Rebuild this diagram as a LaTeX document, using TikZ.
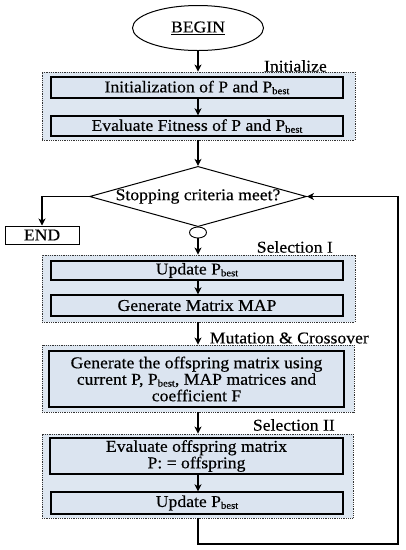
\documentclass[tikz,border=0pt]{standalone}
\usepackage{fontspec}
\setmainfont{Liberation Serif}[FakeStretch=1.07,FakeBold=0.35]
\usetikzlibrary{shapes.geometric,arrows.meta}
\definecolor{grpfill}{HTML}{DEE7F1}
\definecolor{boxfill}{HTML}{DBE4F0}
\newcommand{\Pb}{P\raisebox{-1.8pt}{\fontsize{10}{10}\selectfont best}}
\tikzset{
  grp/.style={draw=black!80, line width=0.9pt, dash pattern=on 1pt off 0.8pt, fill=grpfill, inner sep=0pt},
  stepbox/.style={draw=black, line width=1.4pt, fill=boxfill, inner sep=0pt, align=center},
  lbl/.style={inner sep=0pt, anchor=east},
  arr/.style={line width=1.1pt, -{Stealth[length=7pt,width=7pt,inset=2pt]}},
  lin/.style={line width=1.1pt},
}
\begin{document}
\begin{tikzpicture}[x=1pt,y=-1pt,font=\fontsize{16.5}{16.5}\selectfont]
\useasboundingbox (0,0) rectangle (406,550);
% begin
\node[ellipse, draw, line width=1pt, minimum width=131pt, minimum height=45pt, inner sep=0pt] (begin) at (198,28) {\underline{BEGIN}};
% group 1
\node[grp, minimum width=313pt, minimum height=68pt] (g1) at (198.5,106) {};
\node[stepbox, minimum width=292pt, minimum height=21pt] (b1) at (197,87.5) {Initialization of P and \Pb};
\node[stepbox, minimum width=292pt, minimum height=20pt] (b2) at (197,126) {Evaluate Fitness of P and \Pb};
\node[lbl] (l1) at (327,66) {Initialize};
% decision
\node[diamond, draw, line width=1pt, aspect=3.6, minimum width=214pt, minimum height=59pt, inner sep=0pt] (d) at (198,196.5) {Stopping criteria meet?};
\node[draw, line width=1pt, fill=white, minimum width=74pt, minimum height=18pt, inner sep=0pt] (end) at (42,235) {END};
\node[ellipse, draw, line width=0.9pt, minimum width=17pt, minimum height=11pt, inner sep=0pt] (circ) at (198,232.5) {};
% group 2
\node[grp, minimum width=313pt, minimum height=67pt] (g2) at (198.5,288.5) {};
\node[stepbox, minimum width=292pt, minimum height=19pt] (b3) at (197,270.5) {Update \Pb};
\node[stepbox, minimum width=292pt, minimum height=21pt] (b4) at (197,305.5) {Generate Matrix MAP};
\node[lbl] (l2) at (333,247) {Selection I};
% group 3
\node[grp, minimum width=312pt, minimum height=67pt] (g3) at (198,378.5) {};
\node[stepbox, minimum width=295pt, minimum height=56pt] (b5) at (196.5,379) {Generate the offspring matrix using\\current P, \Pb, MAP matrices and\\coefficient F};
\node[lbl] (l3) at (369,338) {Mutation \& Crossover};
% group 4
\node[grp, minimum width=311pt, minimum height=84pt] (g4) at (197.5,476) {};
\node[stepbox, minimum width=293pt, minimum height=36pt] (b6) at (196.5,456) {Evaluate offspring matrix\\P: = offspring};
\node[stepbox, minimum width=292pt, minimum height=22pt] (b7) at (197,503) {Update \Pb};
\node[lbl] (l4) at (335,425) {Selection II};
% loop corners
\coordinate (c1) at (198,544);
\coordinate (c2) at (398,544);
\coordinate (c3) at (398,196.5);
% connectors
\draw[arr] (begin.south) -- (begin.south |- g1.north);
\draw[arr] (b1.south -| begin.south) -- (b2.north -| begin.south);
\draw[arr] (g1.south -| d.north) -- (d.north);
\draw[arr] (d.west) -| (end.north);
\draw[arr] (circ.south) -- (circ.south |- g2.north);
\draw[arr] (b3.south -| d.south) -- (b4.north -| d.south);
\draw[arr] (g2.south -| d.south) -- (g3.north -| d.south);
\draw[arr] (g3.south -| d.south) -- (g4.north -| d.south);
\draw[arr] (b6.south -| d.south) -- (b7.north -| d.south);
\draw[arr] (g4.south -| c1) -- (c1) -- (c2) -- (c3) -- (d.east);
\end{tikzpicture}
\end{document}
